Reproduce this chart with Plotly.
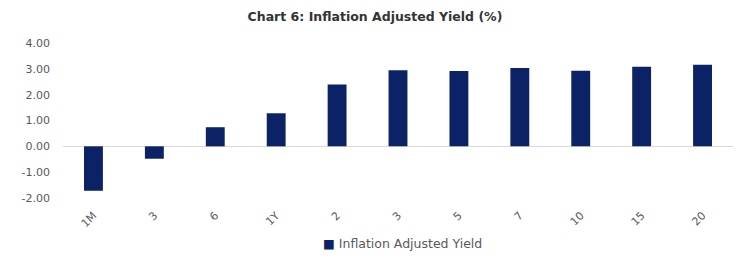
import plotly.graph_objects as go

categories = ["1M", "3", "6", "1Y", "2", "3 ", "5", "7", "10", "15", "20"]
tick_labels = ["1M", "3", "6", "1Y", "2", "3", "5", "7", "10", "15", "20"]
values = [-1.72, -0.48, 0.74, 1.28, 2.39, 2.95, 2.92, 3.03, 2.93, 3.08, 3.16]
y_ticks = [-2, -1, 0, 1, 2, 3, 4]
y_tick_labels = ["-2.00", "-1.00", "0.00", "1.00", "2.00", "3.00", "4.00"]
series_name = "Inflation Adjusted Yield"
bar_color = "#0b2266"

fig = go.Figure()
fig.add_trace(go.Bar(
    x=categories, y=values, name=series_name,
    marker=dict(color=bar_color, line=dict(width=0)),
    showlegend=False,
))

fig.update_layout(
    width=735, height=263,
    margin=dict(l=54.5, r=9.5, t=34.7, b=72.7, pad=0),
    paper_bgcolor="white", plot_bgcolor="white",
    title=dict(text="<b>Chart 6: Inflation Adjusted Yield (%)</b>",
               x=0.4993, xanchor="center", y=0.966, yanchor="middle",
               font=dict(family="DejaVu Sans", size=12.5, color="#333333")),
    font=dict(family="DejaVu Sans", size=11, color="#595959"),
    bargap=0.69,
    showlegend=False,
    annotations=[dict(
        text=f"<span style='color:{bar_color}'>■</span> {series_name}",
        xref="paper", yref="paper", x=0.506, xanchor="center",
        y=-0.294, yanchor="middle", showarrow=False,
        font=dict(family="DejaVu Sans", size=12.5, color="#595959"),
    )],
)
fig.update_xaxes(
    tickmode="array", tickvals=categories, ticktext=tick_labels,
    tickangle=-45, showgrid=False, showline=False, zeroline=False,
    ticks="", automargin=False, ticklabelstandoff=8,
    tickfont=dict(size=11, color="#595959"),
)
fig.update_yaxes(
    range=[-2, 4], tickmode="array", tickvals=y_ticks, ticktext=y_tick_labels,
    showgrid=False, zeroline=True, zerolinecolor="#d9d9d9", zerolinewidth=1,
    showline=False, ticks="", automargin=False, ticklabelstandoff=12,
    tickfont=dict(size=11, color="#595959"),
)

fig.write_html("out.html")
